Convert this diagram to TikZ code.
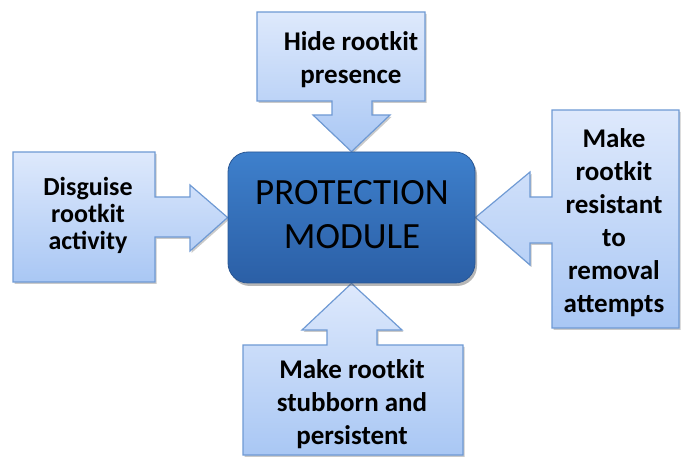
\documentclass[tikz,border=0pt]{standalone}
\usepackage{fontspec}
\setmainfont{Carlito}
\usetikzlibrary{shadows,backgrounds}
\definecolor{callTop}{HTML}{DEE9FC}
\definecolor{callBot}{HTML}{A9C7F4}
\definecolor{callLine}{HTML}{6F9AD4}
\definecolor{pmTop}{HTML}{3E80CC}
\definecolor{pmBot}{HTML}{2B5FA6}
\definecolor{pmLine}{HTML}{2A5794}
\tikzset{
  boxnode/.style={inner sep=0pt, outer sep=0pt},
  calloutshape/.style={draw=callLine, line width=1.2pt, top color=callTop, bottom color=callBot, line join=miter,
    drop shadow={shadow xshift=1.5pt, shadow yshift=-2pt, opacity=0.35, fill=black!60}},
  calltext/.style={align=center, font=\bfseries\fontsize{27}{33}\selectfont, text=black, inner sep=0pt},
  pmstyle/.style={draw=pmLine, line width=0.8pt, rounded corners=20pt, top color=pmTop, bottom color=pmBot,
    minimum width=247pt, minimum height=131pt, inner sep=0pt,
    drop shadow={shadow xshift=2pt, shadow yshift=-3pt, opacity=0.4, fill=black!70}}
}
\begin{document}
\begin{tikzpicture}[x=1pt,y=-1pt]
\useasboundingbox (0,0) rectangle (681,457);
% central node
\node[pmstyle] (pm) at (351.5,217.5) {};
\node[align=center, font=\fontsize{37}{44}\selectfont, inner sep=0pt] (pmtext) at (352,215) {PROTECTION\\MODULE};
% callout boxes (geometry)
\node[boxnode, minimum width=168pt, minimum height=89pt] (hideBox) at (341,56.5) {};
\node[boxnode, minimum width=142pt, minimum height=130pt] (disgBox) at (84,217) {};
\node[boxnode, minimum width=127pt, minimum height=218pt] (resBox) at (615.5,219) {};
\node[boxnode, minimum width=220pt, minimum height=110pt] (stubBox) at (353,400) {};
\begin{scope}[on background layer]
% top callout
\path[calloutshape] (hideBox.north west) -- (hideBox.north east) -- (hideBox.south east)
  -- (372,101) -- (372,115) -- (390,115) -- (pm.north) -- (313,115) -- (332,115) -- (332,101)
  -- (hideBox.south west) -- cycle;
% left callout
\path[calloutshape] (disgBox.north west) -- (disgBox.north east) -- (155,197) -- (190,197) -- (190,185)
  -- (pm.west) -- (190,251) -- (190,237) -- (155,237) -- (disgBox.south east) -- (disgBox.south west) -- cycle;
% right callout
\path[calloutshape] (resBox.north west) -- (resBox.north east) -- (resBox.south east) -- (resBox.south west)
  -- (552,243) -- (530,243) -- (530,265) -- (pm.east) -- (530,172) -- (530,197) -- (552,197) -- cycle;
% bottom callout
\path[calloutshape] (stubBox.north west) -- (327,345) -- (327,330) -- (302,330) -- (pm.south) -- (402,330)
  -- (377,330) -- (377,345) -- (stubBox.north east) -- (stubBox.south east) -- (stubBox.south west) -- cycle;
\end{scope}
% texts
\node[calltext] (hide) at (351,60) {Hide rootkit\\presence};
\node[calltext, font=\bfseries\fontsize{26}{27}\selectfont] (disg) at (88,215) {Disguise\\rootkit\\activity};
\node[calltext] (res) at (614,223) {Make\\rootkit\\resistant\\to\\removal\\attempts};
\node[calltext] (stub) at (352,404) {Make rootkit\\stubborn and\\persistent};
\end{tikzpicture}
\end{document}
